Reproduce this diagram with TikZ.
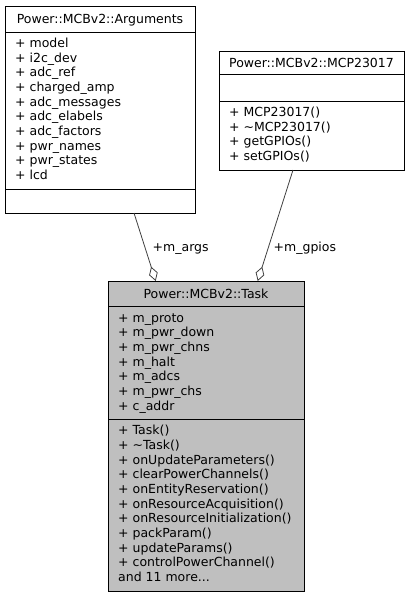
\documentclass[tikz,border=0pt]{standalone}
\usepackage{fontspec}
\setmainfont{DejaVu Sans}
\usetikzlibrary{arrows.meta}
\definecolor{taskgray}{HTML}{BFBFBF}
\definecolor{edgegray}{HTML}{404040}
\begin{document}
\begin{tikzpicture}[x=1pt,y=-1pt,
  box/.style={draw=black, line width=0.9pt, fill=white, inner sep=0pt, outer sep=0pt, anchor=north west},
  member/.style={anchor=base west, inner sep=0pt, font=\fontsize{12.5}{14.67}\selectfont},
  boxtitle/.style={anchor=base, inner sep=0pt, font=\fontsize{12.5}{14.67}\selectfont},
  sepline/.style={draw=black, line width=0.9pt},
  assoc/.style={draw=edgegray, line width=0.8pt, -{Diamond[open, length=15pt, width=9pt, fill=white]}},
  elabel/.style={anchor=base west, inner sep=0pt, font=\fontsize{12.5}{14.67}\selectfont}
]
\useasboundingbox (0,0) rectangle (412,597);

% Arguments
\node[box, minimum width=190pt, minimum height=207pt] (args) at (5,6) {};
\node[boxtitle] (argstitle) at (100,23.5) {Power::MCBv2::Arguments};
\draw[sepline] ([yshift=-26pt]args.north west) -- ([yshift=-26pt]args.north east);
\draw[sepline] ([yshift=24pt]args.south west) -- ([yshift=24pt]args.south east);
\foreach \t [count=\i from 0] in {model, i2c\_dev, adc\_ref, charged\_amp, adc\_messages, adc\_elabels, adc\_factors, pwr\_names, pwr\_states, lcd}
  \node[member] (argsa\i) at (15, 47.5+14.67*\i) {+ \t};

% MCP23017
\node[box, minimum width=185pt, minimum height=119pt] (mcp) at (219,51) {};
\node[boxtitle] (mcptitle) at (311.5,67) {Power::MCBv2::MCP23017};
\draw[sepline] ([yshift=-23pt]mcp.north west) -- ([yshift=-23pt]mcp.north east);
\draw[sepline] ([yshift=-50pt]mcp.north west) -- ([yshift=-50pt]mcp.north east);
\foreach \t [count=\i from 0] in {MCP23017(), \textasciitilde MCP23017(), getGPIOs(), setGPIOs()}
  \node[member] (mcpm\i) at (229, 116.5+14.67*\i) {+ \t};

% Task
\node[box, fill=taskgray, minimum width=196pt, minimum height=310pt] (task) at (108,281) {};
\node[boxtitle] (tasktitle) at (206,298.5) {Power::MCBv2::Task};
\draw[sepline] ([yshift=-25pt]task.north west) -- ([yshift=-25pt]task.north east);
\draw[sepline] ([yshift=-138pt]task.north west) -- ([yshift=-138pt]task.north east);
\foreach \t [count=\i from 0] in {m\_proto, m\_pwr\_down, m\_pwr\_chns, m\_halt, m\_adcs, m\_pwr\_chs, c\_addr}
  \node[member] (taska\i) at (118, 322+14.67*\i) {+ \t};
\foreach \t [count=\i from 0] in {Task(), \textasciitilde Task(), onUpdateParameters(), clearPowerChannels(), onEntityReservation(), onResourceAcquisition(), onResourceInitialization(), packParam(), updateParams(), controlPowerChannel()}
  \node[member] (taskm\i) at (118, 434.7+14.67*\i) {+ \t};
\node[member] (taskmore) at (118, 434.7+14.67*10) {and 11 more...};

% connectors
\coordinate (argsout) at ([xshift=129pt]args.south west);
\coordinate (taskin1) at ([xshift=47.7pt]task.north west);
\coordinate (mcpout) at ([xshift=74pt]mcp.south west);
\coordinate (taskin2) at ([xshift=149.7pt]task.north west);
\draw[assoc] (argsout) -- (taskin1);
\draw[assoc] (mcpout) -- (taskin2);
\node[elabel] (largs) at (152.5,251) {+m\_args};
\node[elabel] (lgpios) at (273.5,251) {+m\_gpios};
\end{tikzpicture}
\end{document}
